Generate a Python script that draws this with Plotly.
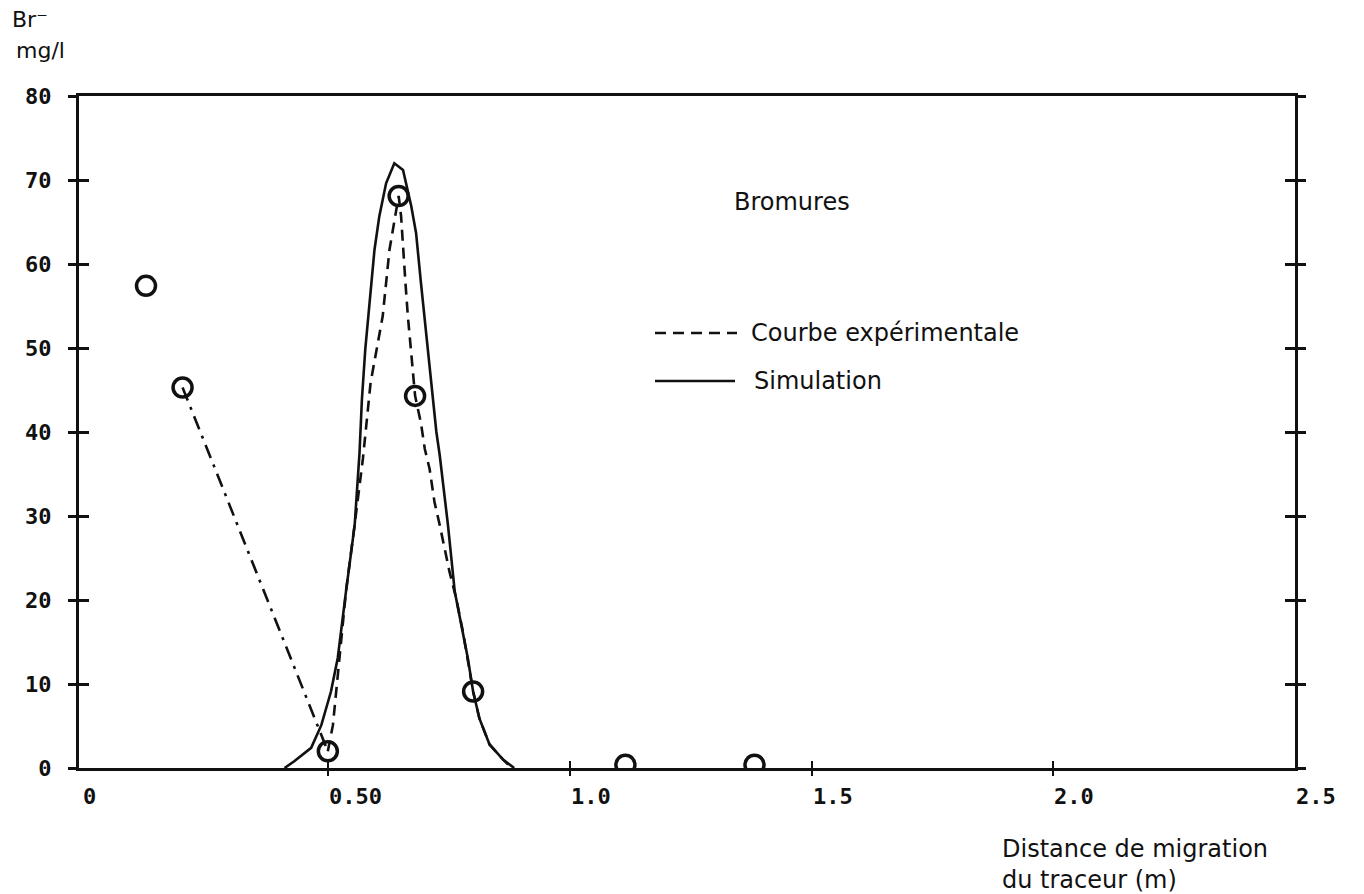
import plotly.graph_objects as go

# Measured bromide concentrations (circles)
mesure_x = [0.1234, 0.199, 0.4995, 0.646, 0.680, 0.800, 1.115, 1.382]
mesure_y = [57.4, 45.3, 2.0, 68.1, 44.3, 9.1, 0.4, 0.4]

# Experimental curve: straight link from the second sample down to the third
lien_x = [0.199, 0.4995]
lien_y = [45.3, 2.0]

# Experimental curve around the breakthrough peak
exp_x = [0.4995, 0.510, 0.520, 0.537, 0.555, 0.572, 0.588, 0.613, 0.627,
         0.646, 0.651, 0.655, 0.660, 0.665, 0.672, 0.680, 0.692, 0.700, 0.710,
         0.720, 0.731, 0.751, 0.765, 0.779, 0.793, 0.800, 0.813, 0.834, 0.862, 0.880]
exp_y = [2.0, 5.1, 11.0, 21.0, 29.0, 36.8, 45.9, 53.8, 61.7,
         68.1, 65.7, 61.7, 57.8, 53.8, 49.0, 44.3, 41.1, 38.0, 35.6,
         31.7, 28.9, 23.4, 20.2, 16.2, 11.5, 9.1, 5.9, 2.8, 1.0, 0.0]

# Simulated breakthrough curve
sim_x = [0.410, 0.430, 0.465, 0.486, 0.506, 0.520, 0.537, 0.555, 0.565, 0.570,
         0.577, 0.586, 0.596, 0.606, 0.620, 0.637, 0.655, 0.672, 0.682, 0.692,
         0.703, 0.713, 0.724, 0.731, 0.748, 0.762, 0.775, 0.789, 0.800, 0.813,
         0.834, 0.862, 0.885]
sim_y = [0.0, 0.8, 2.4, 5.1, 9.1, 13.1, 21.0, 28.9, 37.5, 43.9,
         49.9, 55.8, 61.7, 65.7, 69.6, 72.0, 71.2, 66.9, 63.7, 57.8,
         51.8, 45.9, 40.0, 37.2, 28.9, 21.0, 17.0, 13.1, 9.1, 5.9,
         2.8, 1.0, 0.0]

# Axis ticks
x_ticks = [0, 0.5, 1.0, 1.5, 2.0, 2.5]
x_tick_text = ["0", "0.50", "1.0", "1.5", "2.0", "2.5"]
y_ticks = [0, 10, 20, 30, 40, 50, 60, 70, 80]
y_tick_text = ["0", "10", "20", "30", "40", "50", "60", "70", "80"]

X_RANGE = [-0.0152, 2.5]
Y_RANGE = [0, 80]

# plot-area edges in pixels
LEFT, RIGHT, TOP, BOTTOM = 79, 1295, 96, 768
W, H = 1364, 894

INK = "#111111"
TICK_FONT = dict(family="DejaVu Sans Mono", size=22, color=INK, weight="bold")
TEXT_FONT = dict(family="DejaVu Sans", size=24, color=INK)
UNIT_FONT = dict(family="DejaVu Sans", size=22, color=INK)

fig = go.Figure()

fig.add_trace(go.Scatter(
    x=sim_x, y=sim_y, mode="lines", name="Simulation",
    line=dict(color=INK, width=2.6), showlegend=False,
))
fig.add_trace(go.Scatter(
    x=lien_x, y=lien_y, mode="lines", showlegend=False,
    line=dict(color=INK, width=2.6, dash="14px,7px,3px,7px"),
))
fig.add_trace(go.Scatter(
    x=exp_x, y=exp_y, mode="lines", name="Courbe expérimentale",
    line=dict(color=INK, width=2.6, dash="11px,7px"), showlegend=False,
))
fig.add_trace(go.Scatter(
    x=mesure_x, y=mesure_y, mode="markers", showlegend=False,
    marker=dict(symbol="circle-open", size=19, color=INK, line=dict(width=3.5, color=INK)),
))
# carrier for the outer half of the crossing ticks
fig.add_trace(go.Scatter(x=[], y=[], xaxis="x2", yaxis="y2", showlegend=False,
                         hoverinfo="skip"))

fig.update_layout(
    width=W, height=H,
    margin=dict(l=LEFT, r=W - RIGHT, t=TOP, b=H - BOTTOM),
    paper_bgcolor="white", plot_bgcolor="white",
    showlegend=False,
    xaxis=dict(
        range=X_RANGE, showgrid=False, zeroline=False,
        showline=True, linewidth=3, linecolor=INK, mirror=True,
        tickvals=x_ticks[1:-1], ticks="inside", ticklen=7, tickwidth=2,
        tickcolor=INK, showticklabels=False,
    ),
    xaxis2=dict(
        range=X_RANGE, overlaying="x", anchor="y", showgrid=False, zeroline=False,
        showline=False, tickvals=x_ticks[1:-1], ticks="outside", ticklen=7,
        tickwidth=2, tickcolor=INK, showticklabels=False,
    ),
    yaxis=dict(
        range=Y_RANGE, showgrid=False, zeroline=False,
        showline=True, linewidth=3, linecolor=INK, mirror="ticks",
        tickvals=y_ticks, ticktext=y_tick_text, ticks="inside", ticklen=10,
        tickwidth=2.5, tickcolor=INK, tickfont=TICK_FONT, ticklabelstandoff=20,
    ),
    yaxis2=dict(
        range=Y_RANGE, overlaying="y", anchor="x", showgrid=False, zeroline=False,
        showline=False, mirror="ticks", tickvals=y_ticks, ticks="outside",
        ticklen=10, tickwidth=2.5, tickcolor=INK, showticklabels=False,
    ),
)

# x tick labels start at their tick
for v, t in zip(x_ticks, x_tick_text):
    fig.add_annotation(x=v, y=0, xref="x", yref="paper", text=t, showarrow=False,
                       xanchor="left", yanchor="middle", yshift=-28,
                       xshift=-5 if v == 0 else -1, font=TICK_FONT)


def px_x(px):
    return (px - LEFT) / (RIGHT - LEFT)


def px_y(py):
    return (BOTTOM - py) / (BOTTOM - TOP)


# Axis titles
fig.add_annotation(x=px_x(30), y=px_y(19), xref="paper", yref="paper", text="Br⁻",
                   showarrow=False, font=UNIT_FONT, xanchor="center", yanchor="middle")
fig.add_annotation(x=px_x(40), y=px_y(50), xref="paper", yref="paper", text="mg/l",
                   showarrow=False, font=UNIT_FONT, xanchor="center", yanchor="middle")
fig.add_annotation(x=px_x(1000), y=px_y(833), xref="paper", yref="paper",
                   text="Distance de migration<br>du traceur (m)", align="left",
                   showarrow=False, font=TEXT_FONT, xanchor="left", yanchor="top")

# Title and key
fig.add_annotation(x=px_x(792), y=px_y(202), xref="paper", yref="paper", text="Bromures",
                   showarrow=False, font=TEXT_FONT, xanchor="center", yanchor="middle")
fig.add_shape(type="line", xref="paper", yref="paper",
              x0=px_x(655), x1=px_x(737), y0=px_y(333), y1=px_y(333),
              line=dict(color=INK, width=2.6, dash="11px,7px"))
fig.add_annotation(x=px_x(749), y=px_y(333), xref="paper", yref="paper",
                   text="Courbe expérimentale", showarrow=False, font=TEXT_FONT,
                   xanchor="left", yanchor="middle")
fig.add_shape(type="line", xref="paper", yref="paper",
              x0=px_x(655), x1=px_x(735), y0=px_y(381), y1=px_y(381),
              line=dict(color=INK, width=2.6))
fig.add_annotation(x=px_x(752), y=px_y(381), xref="paper", yref="paper",
                   text="Simulation", showarrow=False, font=TEXT_FONT,
                   xanchor="left", yanchor="middle")

fig.write_html("out.html")
